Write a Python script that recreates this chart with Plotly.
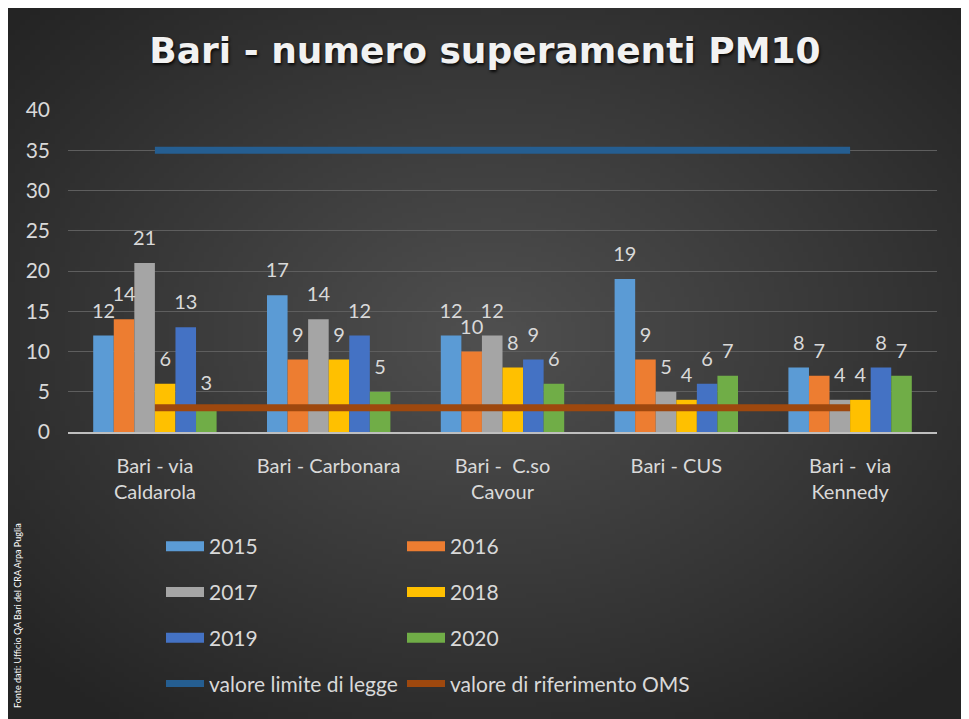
import base64
import struct
import zlib

import numpy as np
import plotly.graph_objects as go

# --- data ---
stations = [
    "Bari - via<br>Caldarola",
    "Bari - Carbonara",
    "Bari -  C.so<br>Cavour",
    "Bari - CUS",
    "Bari -  via<br>Kennedy",
]
years = ["2015", "2016", "2017", "2018", "2019", "2020"]
values_2015 = [12, 17, 12, 19, 8]
values_2016 = [14, 9, 10, 9, 7]
values_2017 = [21, 14, 12, 5, 4]
values_2018 = [6, 9, 8, 4, 4]
values_2019 = [13, 12, 9, 6, 8]
values_2020 = [3, 5, 6, 7, 7]
limite_legge = [35, 35, 35, 35, 35]
riferimento_oms = [3, 3, 3, 3, 3]

series = dict(zip(years, [values_2015, values_2016, values_2017,
                          values_2018, values_2019, values_2020]))
year_colors = {
    "2015": "#5B9BD5",
    "2016": "#ED7D31",
    "2017": "#A5A5A5",
    "2018": "#FFC000",
    "2019": "#4472C4",
    "2020": "#70AD47",
}
# left legend column / right legend column, as in the original
legend_of = {"2015": "legend", "2017": "legend", "2019": "legend",
             "2016": "legend2", "2018": "legend2", "2020": "legend2"}

# the page puts the figure 8px in from the top-left corner
OFF = 8
W, H = 969 - OFF, 719 - OFF
M_L, M_R, M_T, M_B = 68 - OFF, 32, 110 - OFF, 287
PW, PH = W - M_L - M_R, H - M_T - M_B
TXT = "#D9D9D9"
FONT = "Lato"
GAP = 0.29


def px_x(px):
    # screen pixel (reference picture) -> paper x
    return (px - OFF - M_L) / PW


def px_y(py):
    return (H - M_B - (py - OFF)) / PH


def gradient_png(w=194, h=144, inner=80, outer=36):
    # radial grey gradient like the Excel chart style, as a tiny png
    yy, xx = np.mgrid[0:h, 0:w]
    dx = (xx - w * 0.5) / (w * 0.5)
    dy = (yy - h * 0.46) / (h * 0.5)
    d = np.clip(np.sqrt(dx ** 2 + dy ** 2) / 1.35, 0, 1)
    v = (inner + (outer - inner) * d).astype(np.uint8)
    raw = b"".join(b"\x00" + row.tobytes() for row in v)

    def chunk(tag, data):
        return (struct.pack(">I", len(data)) + tag + data
                + struct.pack(">I", zlib.crc32(tag + data) & 0xFFFFFFFF))

    png = (b"\x89PNG\r\n\x1a\n"
           + chunk(b"IHDR", struct.pack(">IIBBBBB", w, h, 8, 0, 0, 0, 0))
           + chunk(b"IDAT", zlib.compress(raw, 9))
           + chunk(b"IEND", b""))
    return "data:image/png;base64," + base64.b64encode(png).decode()


fig = go.Figure()

for year in years:
    fig.add_trace(
        go.Bar(
            x=stations,
            y=series[year],
            name=year,
            marker=dict(color=year_colors[year], line=dict(width=0)),
            alignmentgroup="bars",
            offsetgroup=year,
            showlegend=False,
            hovertemplate=f"{year}: %{{y}}<extra></extra>",
        )
    )

# legend entries for the years (wide rectangles, like Excel)
for year in years:
    fig.add_trace(
        go.Scatter(
            x=[None], y=[None], mode="lines", name=year,
            line=dict(color=year_colors[year], width=10),
            legend=legend_of[year], legendgroup=year,
            alignmentgroup="lines", offsetgroup="lines",
        )
    )

fig.add_trace(
    go.Scatter(
        x=stations, y=limite_legge, mode="lines", name="valore limite di legge",
        line=dict(color="#255E91", width=7), legend="legend",
        legendgroup="limite", alignmentgroup="lines", offsetgroup="lines",
    )
)
fig.add_trace(
    go.Scatter(
        x=stations, y=riferimento_oms, mode="lines",
        name="valore di riferimento OMS",
        line=dict(color="#9E480E", width=7), legend="legend2",
        legendgroup="oms", alignmentgroup="lines", offsetgroup="lines",
    )
)

# data labels, grouped like the bars on an overlaid axis
for year in years:
    fig.add_trace(
        go.Scatter(
            x=stations, y=series[year], xaxis="x2", mode="markers+text",
            text=[str(v) for v in series[year]], textposition="top center",
            textfont=dict(family=FONT, size=20, color=TXT),
            marker=dict(size=19, opacity=0), orientation="v",
            alignmentgroup="labels", offsetgroup=year,
            showlegend=False, hoverinfo="skip", cliponaxis=False,
        )
    )

legend_style = dict(
    font=dict(family=FONT, size=21, color=TXT),
    bgcolor="rgba(0,0,0,0)", traceorder="grouped", tracegroupgap=15.5,
    itemwidth=38, xanchor="left", yanchor="top", y=px_y(526),
)

fig.update_layout(
    width=W,
    height=H,
    margin=dict(l=M_L, r=M_R, t=M_T, b=M_B, autoexpand=False),
    paper_bgcolor="#2E2E2E",
    plot_bgcolor="rgba(0,0,0,0)",
    barmode="group",
    bargap=GAP,
    bargroupgap=0,
    scattermode="group",
    scattergap=GAP,
    title=dict(
        text="Bari - numero superamenti PM10",
        x=(485 - OFF) / W, xref="container", xanchor="center",
        y=1 - (50 - OFF) / H, yref="container", yanchor="middle",
        font=dict(family="DejaVu Sans", size=36, color="#F2F2F2",
                  weight="bold", shadow="1px 2px 3px rgba(0,0,0,0.85)"),
    ),
    xaxis=dict(
        type="category",
        showline=True, linecolor="#BFBFBF", linewidth=2,
        showgrid=False, zeroline=False, ticks="",
        tickfont=dict(family=FONT, size=20, color=TXT),
        ticklabelstandoff=15,
    ),
    xaxis2=dict(overlaying="x", matches="x", visible=False),
    yaxis=dict(
        range=[0, 40], dtick=5, showline=False, zeroline=False,
        gridcolor="#5E5E5E", gridwidth=1, ticks="",
        tickfont=dict(family=FONT, size=21, color=TXT),
        ticklabelstandoff=17,
    ),
    legend=dict(x=px_x(161), **legend_style),
    legend2=dict(x=px_x(402), **legend_style),
    images=[
        dict(
            source=gradient_png(), xref="paper", yref="paper",
            x=px_x(OFF), y=px_y(OFF), sizex=W / PW, sizey=H / PH,
            xanchor="left", yanchor="top", sizing="stretch", layer="below",
        )
    ],
    annotations=[
        dict(
            text="Fonte dati: Ufficio QA Bari del CRA Arpa Puglia",
            xref="paper", yref="paper", x=px_x(17), y=px_y(616),
            xanchor="center", yanchor="middle", textangle=-90,
            showarrow=False, font=dict(family=FONT, size=9, color="#FFFFFF"),
        )
    ],
)

fig.write_html("out.html")
